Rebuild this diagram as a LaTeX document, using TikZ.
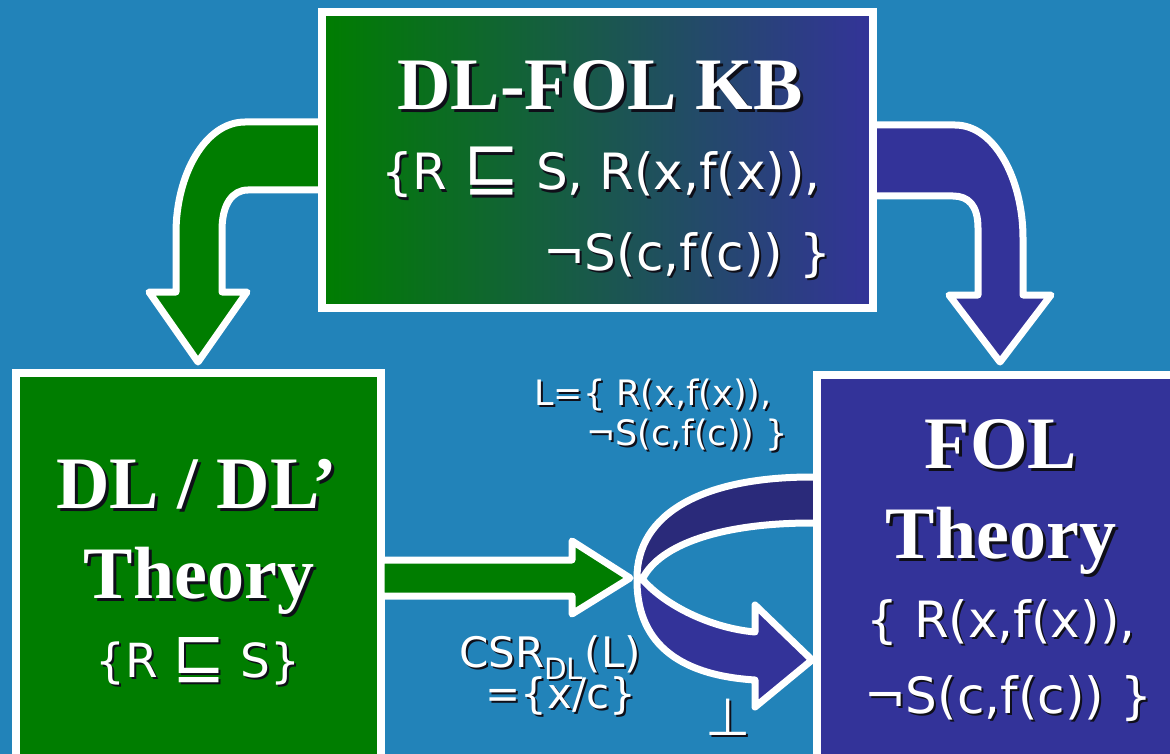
\documentclass[tikz,border=0pt]{standalone}
\usepackage{fontspec}
\newfontfamily\titlefont{Liberation Serif}
\newfontfamily\bodyfont{DejaVu Sans}
\definecolor{bgblue}{RGB}{34,131,185}
\definecolor{dlgreen}{RGB}{0,125,0}
\definecolor{folblue}{RGB}{51,51,153}
\definecolor{banddark}{RGB}{42,42,122}
\definecolor{shadowc}{RGB}{15,15,25}
% white text with a small dark drop shadow
\newcommand\shd[2][2pt]{\leavevmode\rlap{\kern#1\raisebox{-#1}{\color{shadowc}#2}}#2}
% subsumption sign at the height of the capitals
\newcommand\subsumes{\scalebox{1.35}{⊑}}
\tikzset{
  titletext/.style={text=white, font=\titlefont\bfseries\fontsize{74}{80}\selectfont, anchor=base, inner sep=0pt},
  formulatext/.style={text=white, font=\bodyfont\fontsize{#1}{#1}\selectfont, anchor=base, inner sep=0pt},
  formulatext/.default=50,
  outlined/.style={draw=white, line width=7pt, line join=round},
  boxframe/.style={draw=white, line width=8pt, inner sep=0pt, outer sep=0pt},
}
\begin{document}
\begin{tikzpicture}[x=1pt,y=-1pt]
\fill[bgblue] (0,0) rectangle (1170,754);
\useasboundingbox (0,0) rectangle (1170,754);
\clip (0,0) rectangle (1170,754);

% bent arrows leaving the knowledge base
\path[outlined, fill=dlgreen] (326,122) -- (245,122)
  .. controls (205,122) and (176,175) .. (176,233) -- (176,292) -- (149,292)
  -- (198,362) -- (247,292) -- (222,292) -- (222,230)
  .. controls (222,205) and (232,190) .. (248,190) -- (326,190) -- cycle;
\path[outlined, fill=folblue] (870,125) -- (955,125)
  .. controls (995,125) and (1023,180) .. (1023,238) -- (1023,295) -- (1051,295)
  -- (1000,362) -- (949,295) -- (978,295) -- (978,228)
  .. controls (978,205) and (968,196) .. (953,196) -- (870,196) -- cycle;

% boxes of the knowledge base and of the DL theory
\node (kb) [boxframe, left color=dlgreen, right color=folblue,
  minimum width=551pt, minimum height=296pt] at (597.5,160) {};
\node (dl) [boxframe, fill=dlgreen, minimum width=365pt, minimum height=427pt] at (198.5,586.5) {};

% straight arrow from the DL theory
\path[outlined, fill=dlgreen] (381,560) -- (572,560) -- (572,541) -- (630,578)
  -- (572,614) -- (572,596) -- (381,596) -- cycle;

% ribbon turning back into the FOL theory
\path[outlined, fill=banddark] (819,477) -- (812,477)
  .. controls (700,477) and (637,515) .. (637,578) -- (643,578)
  .. controls (660,545) and (720,523) .. (812,523) -- (819,523) -- cycle;
\path[outlined, fill=folblue] (637,578)
  .. controls (636,640) and (675,675) .. (755,680) -- (755,707) -- (812,660)
  -- (755,605) -- (755,632) .. controls (710,628) and (665,605) .. (643,580) -- cycle;

% box of the FOL theory
\node (fol) [boxframe, fill=folblue, minimum width=368pt, minimum height=425pt] at (1001,587.5) {};

% texts of the knowledge base
\node (kbtitle) [titletext] at (600,110) {\shd[3pt]{DL-FOL KB}};
\node (kbline1) [formulatext] at (601,190) {\shd{\{R \subsumes{} S, R(x,f(x)),}};
\node (kbline2) [formulatext] at (687,270) {\shd{¬S(c,f(c)) \}}};

% texts of the DL theory
\node (dltitle) [titletext] at (197,508) {\shd[3pt]{DL / DL’}};
\node (dltheory) [titletext] at (199,598) {\shd[3pt]{Theory}};
\node (dlset) [formulatext=47] at (198,677) {\shd{\{R \subsumes{} S\}}};

% texts of the FOL theory
\node (foltitle) [titletext] at (1001,468) {\shd[3pt]{FOL}};
\node (foltheory) [titletext] at (1001,558) {\shd[3pt]{Theory}};
\node (folline1) [formulatext] at (1001,637) {\shd{\{ R(x,f(x)),}};
\node (folline2) [formulatext] at (1008,713) {\shd{¬S(c,f(c)) \}}};

% labels of the ribbon
\node (lline1) [formulatext=35] at (653,405) {\shd{L=\{ R(x,f(x)),}};
\node (lline2) [formulatext=35] at (687,445) {\shd{¬S(c,f(c)) \}}};
\node (csr) [formulatext=42] at (550,667) {\shd{CSR\textsubscript{DL}\kern1pt(L)}};
\node (csrval) [formulatext=42] at (561,708) {\shd{=\{x/c\}}};
\node (bottom) [formulatext=52] at (728,735) {\shd{⊥}};
\end{tikzpicture}
\end{document}
